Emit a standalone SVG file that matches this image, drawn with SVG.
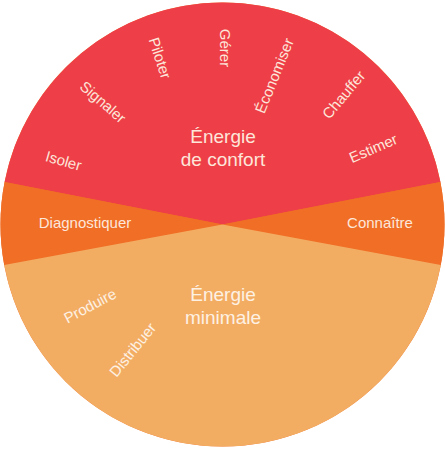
<svg xmlns="http://www.w3.org/2000/svg" width="445" height="450" viewBox="0 0 445 450">
<style>
.lbl{font-family:"Liberation Sans",Arial,sans-serif;font-size:15px;fill:#FDE6DA;text-anchor:middle}
.lbl2{font-family:"Liberation Sans",Arial,sans-serif;font-size:15px;fill:#FDF1E4;text-anchor:middle}
.ttl{font-family:"Liberation Sans",Arial,sans-serif;font-size:19px;fill:#FDE6DA;text-anchor:middle}
.ttl2{font-family:"Liberation Sans",Arial,sans-serif;font-size:19px;fill:#FDF1E4;text-anchor:middle}
</style>
<rect width="445" height="450" fill="#FFFFFF"/>
<g id="base"><circle cx="222.5" cy="224.5" r="222" fill="#F06E26"/></g>
<g id="confort">
<path d="M222.5,224.5 L440.4,182.1 A222,222 0 0 0 4.6,182.1 Z" fill="#EE3F48"/>
<text class="ttl" x="223" y="143">Énergie</text>
<text class="ttl" x="223" y="166">de confort</text>
<text class="lbl" transform="translate(63.5,160.8) rotate(16)" dy=".35em">Isoler</text>
<text class="lbl" transform="translate(103,102) rotate(41)" dy=".35em">Signaler</text>
<text class="lbl" transform="translate(160,58) rotate(72)" dy=".35em">Piloter</text>
<text class="lbl" transform="translate(225,48) rotate(90)" dy=".35em">Gérer</text>
<text class="lbl" transform="translate(274.3,75.7) rotate(-68)" dy=".35em">Économiser</text>
<text class="lbl" transform="translate(343.7,94.7) rotate(-50)" dy=".35em">Chauffer</text>
<text class="lbl" transform="translate(373.3,148.3) rotate(-23.5)" dy=".35em">Estimer</text>
</g>
<g id="diagnostiquer">
<path d="M222.5,224.5 L4.6,182.1 A222,222 0 0 0 4.2,264.95 Z" fill="#F06E26"/>
<text class="lbl" x="85" y="228">Diagnostiquer</text>
</g>
<g id="connaitre">
<path d="M222.5,224.5 L440.8,264.95 A222,222 0 0 0 440.4,182.1 Z" fill="#F06E26"/>
<text class="lbl" x="380" y="228">Connaître</text>
</g>
<g id="minimale">
<path d="M222.5,224.5 L4.2,264.95 A222,222 0 0 0 440.8,264.95 Z" fill="#F3AD63"/>
<text class="ttl2" x="223" y="301">Énergie</text>
<text class="ttl2" x="223" y="323.5">minimale</text>
<text class="lbl2" transform="translate(90,305.7) rotate(-28)" dy=".35em">Produire</text>
<text class="lbl2" transform="translate(132.7,349.7) rotate(-51)" dy=".35em">Distribuer</text>
</g>
<g id="connectors"></g>
</svg>
